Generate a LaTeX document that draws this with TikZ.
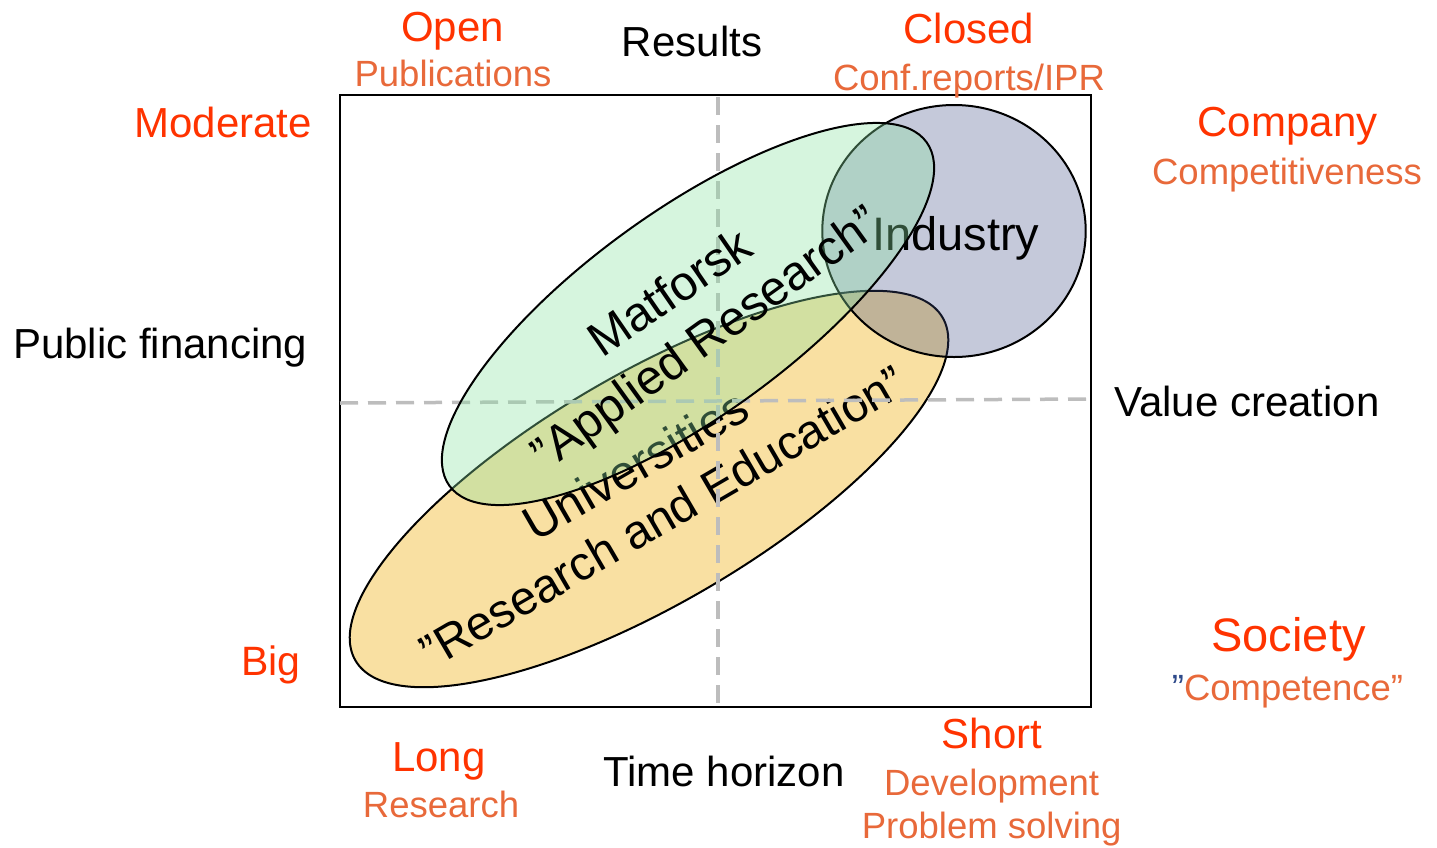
\documentclass[tikz,border=0pt]{standalone}
\usepackage{fontspec}
\setmainfont{Liberation Sans}
\definecolor{lblred}{HTML}{FF3300}
\definecolor{lblsub}{HTML}{E8693A}
\definecolor{navyq}{HTML}{2E4A8A}
\definecolor{yell}{HTML}{F9E0A2}
\definecolor{grn}{HTML}{8AE2A1}
\definecolor{indc}{HTML}{3E4B84}
\definecolor{dashc}{HTML}{BDBDBD}
\newcommand\fsz[1]{\fontsize{#1}{#1}\selectfont}
\begin{document}
\begin{tikzpicture}[x=1pt,y=-1pt,
  lbl/.style={inner sep=0pt, anchor=base},
  mainlbl/.style={lbl, font=\fsz{42}, text=lblred},
  sublbl/.style={lbl, font=\fsz{36.5}, text=lblsub},
  axislbl/.style={lbl, font=\fsz{42}, text=black},
  inlbl/.style={lbl, font=\fsz{48.5}, text=black},
  blob/.style={draw=black, line width=2pt},
  guide/.style={draw=dashc, line width=3.5pt, dash pattern=on 18pt off 10pt}]
\useasboundingbox (0,0) rectangle (1437,847);
% frame
\draw[line width=2.5pt] (340,95) rectangle (1091,707);
% universities ellipse
\path[blob, fill=yell, shift={(649,489)}, rotate=30.3] (0,0) ellipse [x radius=340pt, y radius=115pt];
\node[inlbl, font=\fsz{47.5}, rotate=30.2] (resedu) at (671,531) {”Research and Education”};
\node[inlbl, rotate=30] (univ) at (644,480) {Universities};
% guides
\draw[guide] (718,97) -- (718,705);
\draw[guide] (340,403) -- (1090,399);
% industry
\path[blob, fill=indc, fill opacity=0.3] (954,231) ellipse [x radius=131.7pt, y radius=126pt];
\node[inlbl, font=\fsz{47}] (industry) at (955.7,250) {Industry};
% matforsk ellipse
\path[blob, fill=grn, fill opacity=0.35, shift={(688,314)}, rotate=35.75] (0,0) ellipse [x radius=294pt, y radius=103pt];
\node[inlbl, rotate=34.5] (matforsk) at (679,306) {Matforsk};
\node[inlbl, rotate=35.75] (applied) at (715,351) {”Applied Research”};
% top labels
\node[mainlbl] (open) at (452.5,41.7) {Open};
\node[sublbl] (pub) at (453,86) {Publications};
\node[axislbl] (results) at (692,56.7) {Results};
\node[mainlbl] (closed) at (969,43.3) {Closed};
\node[sublbl] (conf) at (969,90) {Conf.reports/IPR};
% left labels
\node[mainlbl, anchor=base east] (moderate) at (312,137) {Moderate};
\node[axislbl, anchor=base west] (public) at (13,358) {Public financing};
\node[mainlbl, font=\fsz{41}] (big) at (271,675) {Big};
% right labels
\node[mainlbl] (company) at (1287.5,136.7) {Company};
\node[sublbl] (compet) at (1287,184.3) {Competitiveness};
\node[axislbl] (value) at (1247,416) {Value creation};
\node[mainlbl, font=\fsz{47}] (society) at (1288.5,651.7) {Society};
\node[sublbl] (competence) at (1287.5,700) {{\color{navyq}”}Competence”};
% bottom labels
\node[mainlbl] (long) at (439,771.7) {Long};
\node[sublbl] (research) at (441,817) {Research};
\node[axislbl] (time) at (724,786.7) {Time horizon};
\node[mainlbl] (short) at (992,748.3) {Short};
\node[sublbl] (devel) at (991.6,795) {Development};
\node[sublbl] (problem) at (991.7,838.3) {Problem solving};
\end{tikzpicture}
\end{document}
